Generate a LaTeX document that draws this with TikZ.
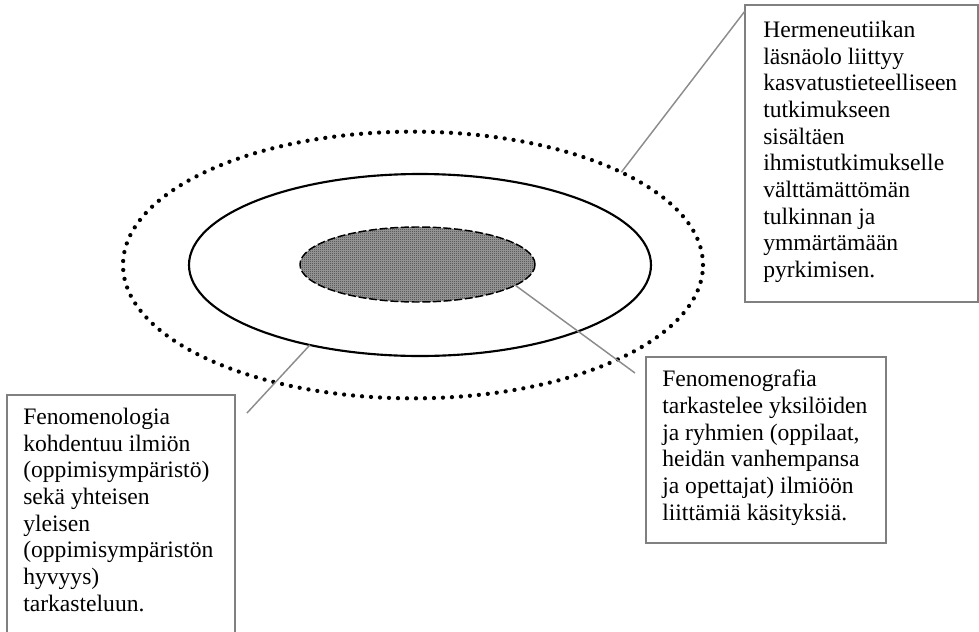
\documentclass[tikz,border=0pt]{standalone}
\usepackage{fontspec}
\setmainfont{Liberation Serif}
\usetikzlibrary{shapes.geometric,calc,patterns.meta}

\definecolor{framegray}{RGB}{128,128,128}
\definecolor{leadgray}{RGB}{140,140,140}
\definecolor{checkdark}{RGB}{55,55,55}
\definecolor{checklight}{RGB}{160,160,160}

% fine checkerboard used for the innermost ellipse
\pgfdeclarepattern{
  name=finechecker,
  type=uncolored,
  bottom left={\pgfpoint{0pt}{0pt}},
  top right={\pgfpoint{1.5pt}{1.5pt}},
  tile size={\pgfpoint{1.5pt}{1.5pt}},
  code={
    \pgfpathrectangle{\pgfpoint{0pt}{0pt}}{\pgfpoint{0.75pt}{0.75pt}}
    \pgfpathrectangle{\pgfpoint{0.75pt}{0.75pt}}{\pgfpoint{0.75pt}{0.75pt}}
    \pgfusepath{fill}
  }
}

\tikzset{
  ring/.style={ellipse, inner sep=0pt, outer sep=0pt},
  dotring/.style={ring, draw=black, line width=3.2pt, line cap=round,
    dash pattern=on 0pt off 6.75pt},
  solidring/.style={ring, draw=black, line width=1.6pt},
  corering/.style={ring, draw=black, line width=1.1pt,
    dash pattern=on 6pt off 2pt, preaction={fill=checklight},
    pattern={finechecker}, pattern color=checkdark},
  frame/.style={rectangle, draw=framegray, line width=1.5pt, inner sep=0pt,
    outer sep=0pt},
  note/.style={anchor=north west, inner sep=0pt, align=left,
    font=\fontsize{17.7}{20}\selectfont},
  lead/.style={draw=leadgray, line width=1.1pt}
}

\begin{document}
\begin{tikzpicture}[x=0.75pt, y=-0.75pt]
  \useasboundingbox (0,0) rectangle (979,632);

  % three nested ellipses
  \node[dotring, minimum width=435pt, minimum height=200pt] (outer) at (413,265) {};
  \node[solidring, minimum width=346.5pt, minimum height=136.5pt] (mid) at (420,265) {};
  \node[corering, minimum width=176.25pt, minimum height=56.25pt] (core) at (417.5,264.5) {};

  % text frames
  \node[frame, minimum width=174.75pt, minimum height=222.75pt] (box1) at (861.5,153.5) {};
  \node[frame, minimum width=171pt, minimum height=191.25pt] (box2) at (121,522.5) {};
  \node[frame, minimum width=180pt, minimum height=139.5pt] (box3) at (766,450) {};

  \node[note] (t1) at (763,21) {Hermeneutiikan\\
    läsnäolo liittyy\\
    kasvatustieteelliseen\\
    tutkimukseen\\
    sisältäen\\
    ihmistutkimukselle\\
    välttämättömän\\
    tulkinnan ja\\
    ymmärtämään\\
    pyrkimisen.};

  \node[note] (t2) at (23,408) {Fenomenologia\\
    kohdentuu ilmiön\\
    (oppimisympäristö)\\
    sekä yhteisen\\
    yleisen\\
    (oppimisympäristön\\
    hyvyys)\\
    tarkasteluun.};

  \node[note] (t3) at (662,370) {Fenomenografia\\
    tarkastelee yksilöiden\\
    ja ryhmien (oppilaat,\\
    heidän vanhempansa\\
    ja opettajat) ilmiöön\\
    liittämiä käsityksiä.};

  % leader lines
  \coordinate (l2end) at (635,373);
  \coordinate (l3end) at (247,413);
  \draw[lead] (outer.24.2) -- ($(box1.north west)+(0,6)$);
  \draw[lead] (core.-12) -- (l2end);
  \draw[lead] (mid.216) -- (l3end);
\end{tikzpicture}
\end{document}
